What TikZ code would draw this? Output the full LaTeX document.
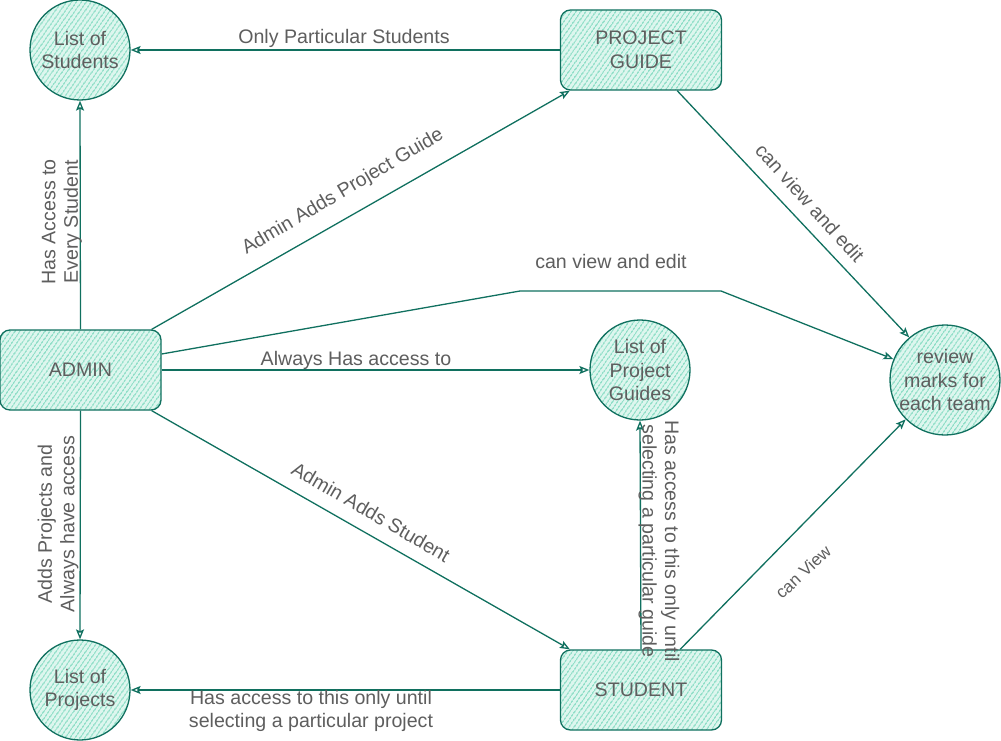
\documentclass[tikz,border=0pt]{standalone}
\usepackage{fontspec}
\setmainfont{Liberation Sans}
\usetikzlibrary{arrows.meta,patterns.meta,shapes.misc}
\definecolor{edgecol}{HTML}{10705F}
\definecolor{hatchcol}{HTML}{6CD4B6}
\definecolor{hatchbg}{HTML}{DDF6EE}
\definecolor{txtcol}{HTML}{5E5E5E}
\tikzset{
  base/.style={draw=edgecol, line width=1.3pt, text=txtcol, align=center, inner sep=0pt,
    preaction={fill=hatchbg},
    pattern={Lines[angle=55,distance=4pt,line width=1.3pt]}, pattern color=hatchcol,
    font=\fontsize{19.6}{23.5}\selectfont},
  circnode/.style={base, circle, minimum size=100pt},
  boxnode/.style={base, rounded corners=10pt, minimum width=161pt, minimum height=80pt},
  conn/.style={draw=edgecol, line width=1.3pt, -{Stealth[open,length=10pt,width=8pt,inset=2pt]}},
  lbl/.style={text=txtcol, align=center, inner sep=0pt, font=\fontsize{19.6}{22.5}\selectfont},
}
\begin{document}
\begin{tikzpicture}[x=1pt,y=-1pt]
\useasboundingbox (0,0) rectangle (1001,741);
% nodes
\node[circnode] (ls) at (80,50) {List of\\Students};
\node[boxnode] (pg) at (641,50) {PROJECT\\GUIDE};
\node[boxnode] (admin) at (80.5,370) {ADMIN};
\node[circnode] (lpg) at (640,370) {List of\\Project\\Guides};
\node[circnode, minimum size=110pt] (rv) at (945,380) {review\\marks for\\each team};
\node[circnode] (lp) at (80,690) {List of\\Projects};
\node[boxnode] (st) at (641,690) {STUDENT};
% bend points
\coordinate (b1) at (520,291);
\coordinate (b2) at (721,291);
% connectors
\draw[conn] (pg.west) -- (ls.east);
\draw[conn] (admin.north) -- (ls.south);
\draw[conn] ([xshift=-10pt]admin.north east) -- ([xshift=10pt]pg.south west);
\draw[conn] ([yshift=16pt]admin.east) -- (b1) -- (b2) -- (rv.158);
\draw[conn] (admin.east) -- (lpg.west);
\draw[conn] ([xshift=-10pt]admin.south east) -- ([xshift=10pt]st.north west);
\draw[conn] (admin.south) -- (lp.north);
\draw[conn] (st.west) -- (lp.east);
\draw[conn] (st.north) -- (lpg.south);
\draw[conn] ([xshift=-42pt]st.north east) -- (rv.225);
\draw[conn] ([xshift=-45pt]pg.south east) -- (rv.130);
% labels
\node[lbl] (l1) at (344,38) {Only Particular Students};
\node[lbl, rotate=90] (l2) at (62,222) {Has Access to\\Every Student};
\node[lbl, rotate=30.5] (l3) at (343,192) {Admin Adds Project Guide};
\node[lbl] (l4) at (611,261) {can view and edit};
\node[lbl, rotate=-48] (l5) at (810,203) {can view and edit};
\node[lbl] (l6) at (356,360) {Always Has access to};
\node[lbl, rotate=-30] (l7) at (371,512) {Admin Adds Student};
\node[lbl, rotate=90] (l8) at (58,524) {Adds Projects and\\Always have access};
\node[lbl, rotate=-90] (l9) at (659,541) {Has access to this only until\\selecting a particular guide};
\node[lbl] (l10) at (311,711) {Has access to this only until\\selecting a particular project};
\node[lbl, rotate=43, font=\fontsize{17}{20}\selectfont] (l11) at (803,572) {can View};
\end{tikzpicture}
\end{document}
